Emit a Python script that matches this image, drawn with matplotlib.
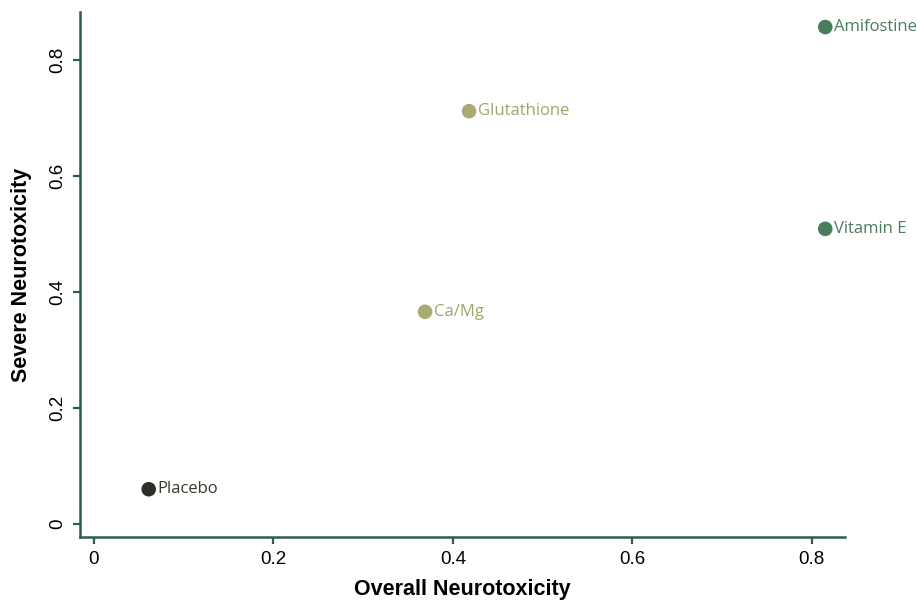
import matplotlib
matplotlib.use("Agg")
import matplotlib.pyplot as plt

# values
agents = ["Placebo", "Ca/Mg", "Glutathione", "Amifostine", "Vitamin E"]
overall = [0.061, 0.369, 0.418, 0.815, 0.815]
severe = [0.060, 0.366, 0.712, 0.857, 0.509]
colors = ["#2e2e2b", "#a9ab72", "#a9ab72", "#4a7d5e", "#4a7d5e"]
label_colors = ["#3a3a30", "#a2a56a", "#a2a56a", "#4a7d5e", "#4a7d5e"]

axis_color = "#2d5e4c"

fig = plt.figure(figsize=(9.17, 6.0), dpi=100)
ax = fig.add_axes([0.0872, 0.105, 0.8343, 0.875])

ax.scatter(overall, severe, s=110, c=colors, zorder=3, linewidths=0)
for name, x, y, col in zip(agents, overall, severe, label_colors):
    ax.annotate(name, (x, y), xytext=(6.5, 0), textcoords="offset points",
                va="center", ha="left", fontsize=12, color=col,
                family=["Open Sans", "DejaVu Sans"])

ax.set_xlim(-0.0156, 0.837)
ax.set_ylim(-0.0224, 0.883)
ax.set_xticks([0, 0.2, 0.4, 0.6, 0.8])
ax.set_xticklabels(["0", "0.2", "0.4", "0.6", "0.8"])
ax.set_yticks([0, 0.2, 0.4, 0.6, 0.8])
ax.set_yticklabels(["0", "0.2", "0.4", "0.6", "0.8"], rotation=90, va="center")

for side in ["top", "right"]:
    ax.spines[side].set_visible(False)
for side in ["left", "bottom"]:
    ax.spines[side].set_color(axis_color)
    ax.spines[side].set_linewidth(1.8)

ax.tick_params(axis="both", direction="out", length=5, width=1.6,
               color=axis_color, labelsize=13.5, pad=5)
for lab in ax.get_xticklabels() + ax.get_yticklabels():
    lab.set_family(["Liberation Sans", "DejaVu Sans"])

ax.set_xlabel("Overall Neurotoxicity", fontsize=15.5, fontweight="bold",
              family=["Liberation Sans", "DejaVu Sans"], labelpad=8)
ax.set_ylabel("Severe Neurotoxicity", fontsize=15.5, fontweight="bold",
              family=["Liberation Sans", "DejaVu Sans"], labelpad=12)

fig.savefig("out.png", dpi=100)
